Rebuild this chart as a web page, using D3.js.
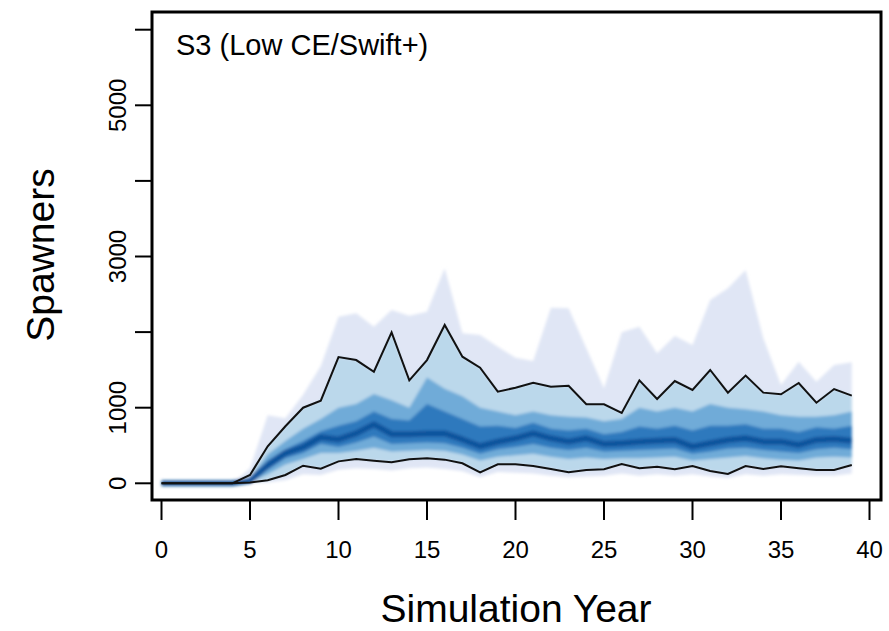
<!DOCTYPE html>
<html>
<head>
<meta charset="utf-8">
<script src="https://cdn.jsdelivr.net/npm/d3@7"></script>
<style>
  html, body { margin: 0; padding: 0; background: #fff; }
  svg { display: block; font-family: "Liberation Sans", Arial, sans-serif; }
</style>
</head>
<body>
<div id="chart"></div>
<script>
// Spawners fan chart, years 0..39
const years = d3.range(0, 40);

// quantile envelopes
const top100 = [0,0,0,0,0,200,900,860,1170,1550,2204,2249,2071,2292,2217,2270,2844,1984,1962,1807,1660,1618,2323,2315,1786,1256,1997,2071,1720,1948,1829,2425,2579,2821,1918,1300,1609,1344,1565,1600];
const hi90   = [0,0,0,0,0,110,490,755,1000,1093,1670,1630,1476,1997,1362,1630,2094,1675,1529,1212,1265,1331,1278,1291,1045,1045,930,1362,1115,1353,1234,1499,1199,1424,1199,1177,1327,1066,1247,1159];
const hi75   = [0,0,0,0,0,70,380,560,720,850,1000,1050,1180,1100,1000,1400,1250,1150,1000,950,900,950,900,880,870,820,850,1000,950,1000,950,1050,1000,980,950,900,880,880,900,950];
const hi60   = [0,0,0,0,0,50,300,450,560,690,760,820,950,850,830,1050,950,850,750,760,730,800,720,700,720,650,680,750,720,760,700,760,760,780,720,720,680,740,720,760];
const med    = [0,0,0,0,0,35,240,400,480,610,580,660,780,650,650,660,660,580,490,550,595,660,595,551,595,520,530,551,564,573,485,529,573,595,551,551,507,573,586,564];
const lo40   = [0,0,0,0,0,25,180,330,400,520,480,540,620,520,530,540,530,470,390,450,480,520,470,440,470,420,430,440,450,460,390,420,460,470,440,420,400,450,470,450];
const lo25   = [0,0,0,0,0,15,120,250,320,400,400,430,470,420,430,440,430,380,300,350,370,390,350,320,340,320,330,330,340,350,300,320,340,360,330,310,300,340,350,340];
const lo10   = [0,0,0,0,0,10,40,110,233,194,290,321,299,278,317,330,313,265,145,251,251,229,189,145,176,185,255,198,220,185,229,163,123,229,189,225,198,176,176,242];
const bottom0 = [0,0,0,0,0,0,10,40,120,110,180,200,190,170,200,210,190,160,80,150,140,130,100,80,90,100,130,100,120,100,120,90,70,120,100,120,110,100,100,130];

const xTicks = [0, 5, 10, 15, 20, 25, 30, 35, 40];
const yTicks = [0, 1000, 2000, 3000, 4000, 5000, 6000];
const yLabels = [0, 1000, 3000, 5000];

const W = 889, H = 631;
const box = { left: 152, right: 881, top: 12, bottom: 500 };

const svg = d3.select("#chart").append("svg")
  .attr("width", W).attr("height", H);

const x = d3.scaleLinear().domain([0, 40]).range([161.5, 869.5]);
const y = d3.scaleLinear().domain([0, 6000]).range([483.3, 29.7]);

const defs = svg.append("defs");
defs.append("filter").attr("id", "soft")
  .attr("x", "-5%").attr("y", "-5%").attr("width", "110%").attr("height", "110%")
  .append("feGaussianBlur").attr("stdDeviation", 1.4);

// bands from outside in
const bands = [
  { lo: bottom0, hi: top100, color: "#e0e6f5" },
  { lo: lo10, hi: hi90, color: "#bbd8eb" },
  { lo: lo25, hi: hi75, color: "#6fabd8" },
  { lo: lo40, hi: hi60, color: "#2f79bd" }
];

const gBands = svg.append("g").attr("filter", "url(#soft)");
bands.forEach(b => {
  const area = d3.area()
    .x((d, i) => x(years[i]))
    .y0((d, i) => y(b.lo[i]))
    .y1((d, i) => y(b.hi[i]));
  gBands.append("path")
    .datum(years)
    .attr("d", area)
    .attr("fill", b.color);
});

const lineOf = arr => d3.line().x((d, i) => x(years[i])).y((d, i) => y(arr[i]))(years);

gBands.append("path")
  .attr("d", lineOf(med))
  .attr("fill", "none")
  .attr("stroke", "#0c4f98")
  .attr("stroke-width", 6)
  .attr("stroke-linejoin", "round")
  .attr("opacity", 0.9);

// black quantile lines
[hi90, lo10].forEach(arr => {
  svg.append("path")
    .attr("d", lineOf(arr))
    .attr("fill", "none")
    .attr("stroke", "#111")
    .attr("stroke-width", 2);
});

// box
svg.append("rect")
  .attr("x", box.left).attr("y", box.top)
  .attr("width", box.right - box.left).attr("height", box.bottom - box.top)
  .attr("fill", "none").attr("stroke", "#000").attr("stroke-width", 3);

// x axis
const xAxis = svg.append("g");
xAxis.selectAll("line").data(xTicks).enter().append("line")
  .attr("x1", d => x(d)).attr("x2", d => x(d))
  .attr("y1", box.bottom).attr("y2", box.bottom + 20)
  .attr("stroke", "#000").attr("stroke-width", 2);
xAxis.selectAll("text").data(xTicks).enter().append("text")
  .attr("x", d => x(d)).attr("y", 558)
  .attr("text-anchor", "middle")
  .attr("font-size", 24)
  .text(d => d);

// y axis
const yAxis = svg.append("g");
yAxis.selectAll("line").data(yTicks).enter().append("line")
  .attr("x1", box.left - 17).attr("x2", box.left)
  .attr("y1", d => y(d)).attr("y2", d => y(d))
  .attr("stroke", "#000").attr("stroke-width", 2);
yAxis.selectAll("text").data(yLabels).enter().append("text")
  .attr("transform", d => `translate(126,${y(d)}) rotate(-90)`)
  .attr("text-anchor", "middle")
  .attr("font-size", 24)
  .text(d => d);

// titles
svg.append("text")
  .attr("x", 516).attr("y", 622)
  .attr("text-anchor", "middle")
  .attr("font-size", 39)
  .text("Simulation Year");

svg.append("text")
  .attr("transform", "translate(54,255) rotate(-90)")
  .attr("text-anchor", "middle")
  .attr("font-size", 39)
  .text("Spawners");

svg.append("text")
  .attr("x", 176).attr("y", 55)
  .attr("font-size", 29)
  .text("S3 (Low CE/Swift+)");
</script>
</body>
</html>
